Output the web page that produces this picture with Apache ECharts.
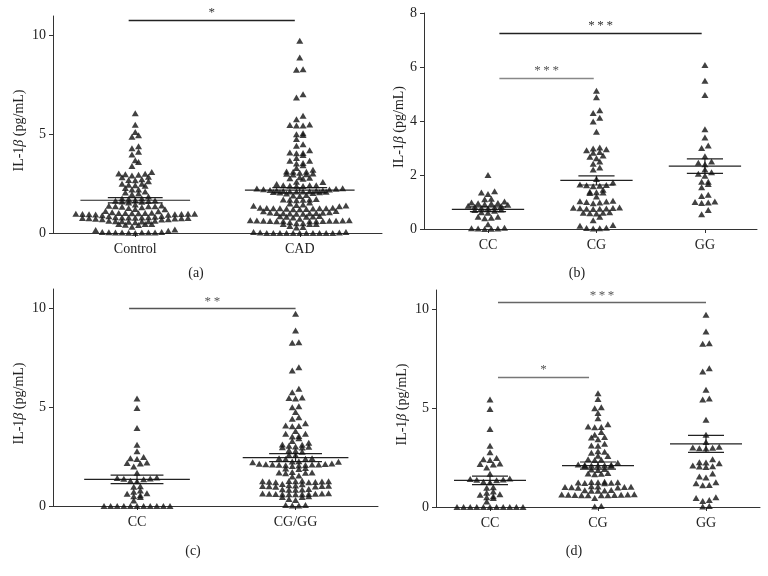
<!DOCTYPE html>
<html><head><meta charset="utf-8">
<script src="https://cdn.jsdelivr.net/npm/echarts@6/dist/echarts.min.js"></script>
<style>html,body{margin:0;padding:0;background:#fff}#c{width:768px;height:576px}</style>
</head><body><div id="c"></div>
<script>
// ---- data ----
// Panel (b): control subjects by genotype
const ccB = [2.0, 1.4, 1.35, 1.3, 1.12, 1.1, 1.02, 0.98, 0.96, 0.95, 0.94, 0.92, 0.9, 0.86, 0.85, 0.82, 0.8, 0.78, 0.76, 0.72, 0.7, 0.68, 0.62, 0.6, 0.45, 0.45, 0.42, 0.4, 0.18, 0.05, 0.03, 0.02, 0.02, 0.01, 0.0];
const cgB = [5.12, 4.88, 4.4, 4.3, 4.12, 3.98, 3.6, 3.02, 2.98, 2.95, 2.92, 2.85, 2.82, 2.72, 2.68, 2.62, 2.5, 2.42, 2.28, 2.2, 1.85, 1.72, 1.65, 1.63, 1.62, 1.6, 1.58, 1.45, 1.38, 1.36, 1.35, 1.33, 1.2, 1.05, 1.03, 1.02, 1.0, 0.98, 0.95, 0.8, 0.79, 0.78, 0.77, 0.76, 0.75, 0.75, 0.74, 0.62, 0.6, 0.6, 0.58, 0.57, 0.45, 0.32, 0.15, 0.12, 0.05, 0.04, 0.03, 0.02];
const ggB = [6.07, 5.49, 4.96, 3.69, 3.39, 3.09, 3.0, 2.69, 2.5, 2.45, 2.4, 2.2, 2.1, 2.05, 1.97, 1.75, 1.75, 1.67, 1.55, 1.27, 1.22, 1.02, 1.0, 0.98, 0.96, 0.7, 0.55];
// Panel (d): CAD patients by genotype
const ccD = [5.45, 4.97, 3.95, 3.1, 2.78, 2.48, 2.42, 2.38, 2.2, 2.18, 2.15, 2.0, 1.68, 1.45, 1.42, 1.4, 1.38, 1.35, 1.28, 1.25, 1.0, 0.98, 0.78, 0.72, 0.65, 0.62, 0.55, 0.5, 0.45, 0.28, 0, 0, 0, 0, 0, 0, 0, 0, 0, 0, 0];
const cgD = [5.77, 5.47, 5.06, 5.0, 4.76, 4.5, 4.2, 4.08, 4.06, 4.04, 3.8, 3.66, 3.55, 3.52, 3.43, 3.2, 3.12, 3.1, 2.82, 2.8, 2.75, 2.6, 2.58, 2.42, 2.4, 2.38, 2.24, 2.15, 2.14, 2.13, 2.12, 2.11, 2.1, 2.09, 2.08, 1.92, 1.9, 1.88, 1.72, 1.7, 1.68, 1.66, 1.28, 1.27, 1.26, 1.25, 1.24, 1.23, 1.22, 1.2, 1.05, 1.04, 1.03, 1.02, 1.01, 1.0, 0.99, 0.98, 0.86, 0.85, 0.84, 0.83, 0.82, 0.64, 0.63, 0.63, 0.62, 0.62, 0.61, 0.61, 0.6, 0.6, 0.59, 0.59, 0.45, 0.05, 0.03];
const ggD = [9.75, 8.9, 8.3, 8.28, 7.03, 6.87, 5.94, 5.5, 5.45, 4.42, 3.66, 3.3, 3.05, 3.02, 3.0, 2.98, 2.96, 2.42, 2.27, 2.25, 2.22, 2.1, 2.07, 2.05, 2.03, 1.7, 1.55, 1.5, 1.25, 1.2, 1.12, 1.1, 0.5, 0.45, 0.35, 0.3, 0.05, 0.03];
// Panel (a) and (c) groups are unions of the genotype groups
const controlA = ccB.concat(cgB, ggB);
const cadA = ccD.concat(cgD, ggD);
const ccC = ccD.slice();
const cgggC = cgD.concat(ggD);

const catsA = ['Control', 'CAD'];
const catsB = ['CC', 'CG', 'GG'];
const catsC = ['CC', 'CG/GG'];
const catsD = ['CC', 'CG', 'GG'];

// mean and SEM
const meanA = [1.66, 2.17], semA = [0.13, 0.13];
const meanB = [0.73, 1.80, 2.33], semB = [0.09, 0.17, 0.27];
const meanC = [1.35, 2.45], semC = [0.22, 0.20];
const meanD = [1.35, 2.10, 3.20], semD = [0.22, 0.18, 0.43];

// significance bars: [fromX, toX, y, label]
const sigA = [[0.96, 1.97, 10.8, '*']];
const sigB = [[1.105, 2.97, 7.26, '*\u2009*\u2009*'], [1.105, 1.975, 5.6, '*\u2009*\u2009*']];
const sigC = [[0.95, 2.0, 10.0, '*\u2009*']];
const sigD = [[1.074, 3.0, 10.36, '*\u2009*\u2009*'], [1.074, 1.917, 6.6, '*']];

const yTicksA = [0, 5, 10];
const yTicksB = [0, 2, 4, 6, 8];
const letters = ['(a)', '(b)', '(c)', '(d)'];

// ---- layout ----
const FONT = 'Liberation Serif';
const panels = [
  {grid: {left: 53, top: 16, width: 329, height: 217}, xr: [0.5, 2.5], yr: [0, 11], yt: yTicksA, cats: catsA, groups: [controlA, cadA], mean: meanA, sem: semA, sig: sigA, sigCol: ['#222'], nameGap: 27, letter: [196, 273]},
  {grid: {left: 424, top: 13, width: 333, height: 216}, xr: [0.41, 3.48], yr: [0, 8], yt: yTicksB, cats: catsB, groups: [ccB, cgB, ggB], mean: meanB, sem: semB, sig: sigB, sigCol: ['#222', '#888'], nameGap: 12, letter: [577, 273]},
  {grid: {left: 53, top: 289, width: 325, height: 217}, xr: [0.47, 2.52], yr: [0, 11], yt: yTicksA, cats: catsC, groups: [ccC, cgggC], mean: meanC, sem: semC, sig: sigC, sigCol: ['#555'], nameGap: 27, letter: [193, 551]},
  {grid: {left: 436, top: 290, width: 324, height: 217}, xr: [0.5, 3.5], yr: [0, 11], yt: yTicksA, cats: catsD, groups: [ccD, cgD, ggD], mean: meanD, sem: semD, sig: sigD, sigCol: ['#666', '#777'], nameGap: 27, letter: [574, 551]}
];

function swarm(values, center, pxX, pxY, dPx, hPx) {
  const sorted = values.slice().sort((a, b) => a - b);
  const rows = []; let cur = null;
  for (const v of sorted) {
    if (!cur || (v - cur.start) * pxY >= hPx) { cur = {start: v, vals: []}; rows.push(cur); }
    cur.vals.push(v);
  }
  const pts = [];
  rows.forEach(r => {
    const n = r.vals.length;
    const offs = [];
    for (let i = 0; i < n; i++) offs.push(i - (n - 1) / 2);
    offs.sort((a, b) => Math.abs(a) - Math.abs(b) || a - b);
    r.vals.forEach((v, i) => pts.push([center + offs[i] * dPx / pxX, v]));
  });
  return pts;
}

const grids = [], xAxes = [], yAxes = [], series = [], graphics = [];
panels.forEach((p, k) => {
  grids.push(p.grid);
  const pxX = p.grid.width / (p.xr[1] - p.xr[0]);
  const pxY = p.grid.height / (p.yr[1] - p.yr[0]);
  const catPos = p.cats.map((c, i) => i + 1);
  xAxes.push({
    gridIndex: k, type: 'value', min: p.xr[0], max: p.xr[1],
    axisLine: {show: true, onZero: false, lineStyle: {color: '#333', width: 1}},
    axisTick: {show: true, customValues: catPos, length: 4, lineStyle: {color: '#333'}},
    axisLabel: {show: true, customValues: catPos, formatter: v => p.cats[Math.round(v) - 1] || '', fontFamily: FONT, fontSize: 14, color: '#222', margin: 9},
    splitLine: {show: false}
  });
  yAxes.push({
    gridIndex: k, type: 'value', min: p.yr[0], max: p.yr[1],
    name: '{a|IL-1}{b|β}{a| (pg/mL)}', nameLocation: 'middle', nameGap: p.nameGap, nameRotate: 90,
    nameTextStyle: {padding: [0, 12, 0, 0], rich: {a: {fontFamily: FONT, fontSize: 14, color: '#222'}, b: {fontFamily: FONT, fontSize: 14, fontStyle: 'italic', color: '#222'}}},
    axisLine: {show: true, lineStyle: {color: '#333', width: 1}},
    axisTick: {show: true, customValues: p.yt, length: 4, lineStyle: {color: '#333'}},
    axisLabel: {show: true, customValues: p.yt, fontFamily: FONT, fontSize: 14, color: '#222', margin: 7},
    splitLine: {show: false}
  });
  // mean + SEM bars
  series.push({
    type: 'custom', xAxisIndex: k, yAxisIndex: k, z: 3, silent: true,
    data: p.mean.map((m, i) => [i + 1, m, p.sem[i]]),
    renderItem: (params, api) => {
      const x = api.value(0), m = api.value(1), s = api.value(2);
      const seg = (x1, y1, x2, y2) => {
        const a = api.coord([x1, y1]), b = api.coord([x2, y2]);
        return {type: 'line', shape: {x1: a[0], y1: a[1], x2: b[0], y2: b[1]}, style: {stroke: '#222', lineWidth: 1.2}};
      };
      return {type: 'group', children: [
        seg(x - 1 / 3, m, x + 1 / 3, m),
        seg(x - 1 / 6, m + s, x + 1 / 6, m + s),
        seg(x - 1 / 6, m - s, x + 1 / 6, m - s),
        seg(x, m - s, x, m + s)
      ]};
    }
  });
  // points
  const pts = [];
  p.groups.forEach((g, i) => swarm(g, i + 1, pxX, pxY, 6.6, 4.2).forEach(q => pts.push(q)));
  series.push({
    type: 'scatter', xAxisIndex: k, yAxisIndex: k, z: 4, silent: true,
    symbol: 'triangle', symbolSize: [7, 6], itemStyle: {color: '#111'},
    data: pts,
    markLine: {
      silent: true, symbol: ['none', 'none'], animation: false,
      data: p.sig.map((s, i) => [
        {coord: [s[0], s[2]], lineStyle: {color: p.sigCol[i], width: 1.3, type: 'solid'},
         label: {show: true, formatter: s[3], position: 'insideMiddleTop', distance: 1, color: p.sigCol[i] === '#222' ? '#333' : '#555', fontFamily: FONT, fontSize: 13}},
        {coord: [s[1], s[2]]}
      ])
    }
  });
  graphics.push({type: 'text', x: p.letter[0], y: p.letter[1], style: {text: letters[k], font: '14px "Liberation Serif"', fill: '#222', textAlign: 'center', textVerticalAlign: 'middle'}});
});

const chart = echarts.init(document.getElementById('c'));
chart.setOption({
  animation: false,
  backgroundColor: '#fff',
  grid: grids, xAxis: xAxes, yAxis: yAxes, series: series, graphic: graphics
});
</script>
</body></html>
